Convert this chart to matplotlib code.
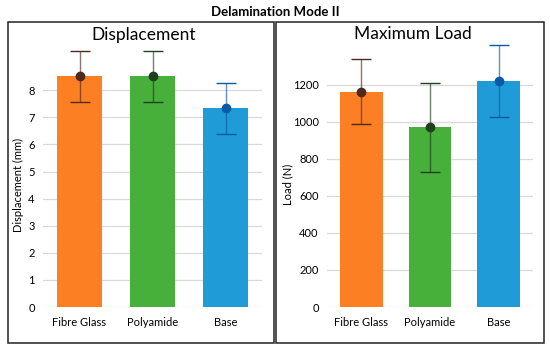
import numpy as np
import matplotlib.pyplot as plt
from matplotlib.patches import Rectangle

plt.rcParams['font.family'] = ['Lato', 'DejaVu Sans']

categories = ["Fibre Glass", "Polyamide", "Base"]
bar_colors = ["#fd7f23", "#47b03b", "#1f9bd8"]
err_colors = ["#4f2a1c", "#1f3f1f", "#0a5aa8"]

disp_mean = [8.51, 8.52, 7.33]
disp_err = [0.95, 0.94, 0.95]

load_mean = [1163, 970, 1220]
load_err = [175, 240, 192]

fig = plt.figure(figsize=(5.5, 3.5), dpi=100)
W, H = 550, 350

def fx(px):
    return px / W

def fy(py):
    return 1 - py / H

# panel frames
for x0, x1 in [(8, 274), (276, 544)]:
    fig.add_artist(Rectangle((fx(x0), fy(343)), fx(x1 - x0), (343 - 22) / H,
                             transform=fig.transFigure, fill=False,
                             edgecolor="#222222", linewidth=1.1))

fig.text(0.5, fy(12), "Delamination Mode II", ha="center", va="center",
         fontsize=9.5, fontweight="bold")
fig.text(fx(144), fy(35), "Displacement", ha="center", va="center", fontsize=12.5)
fig.text(fx(413), fy(34), "Maximum Load", ha="center", va="center", fontsize=12.5)


def panel(ax, means, errs, ticks, ymax, ylabel, label_x):
    x = np.arange(len(categories))
    ax.bar(x, means, width=0.62, color=bar_colors, zorder=2)
    for i in range(len(x)):
        ax.errorbar(x[i], means[i], yerr=errs[i], fmt="o", color=err_colors[i],
                    ecolor=err_colors[i], elinewidth=1.0, capsize=7.5, capthick=1.0,
                    markersize=6, zorder=3, clip_on=False)
    for l in ax.collections:
        l.set_alpha(0.65)
    ax.set_xlim(-0.5, 2.5)
    ax.set_ylim(0, ymax)
    ax.set_yticks(ticks)
    ax.set_xticks(x)
    ax.set_xticklabels(categories, fontsize=8)
    ax.tick_params(axis="y", labelsize=8, length=0, pad=6)
    ax.tick_params(axis="x", length=0, pad=7)
    for t in ticks:
        ax.axhline(t, color="#d9d9d9", linewidth=0.9, zorder=1)
    for s in ax.spines.values():
        s.set_visible(False)
    ax.set_ylabel(ylabel, fontsize=8)
    ax.yaxis.set_label_coords(label_x, 0.5)


ax1 = fig.add_axes([fx(43), fy(307), fx(262 - 43), (307 - 62) / H])
panel(ax1, disp_mean, disp_err, np.arange(0, 9, 1), (307 - 62) / 27.1,
      "Displacement (mm)", (24 - 43) / 219)

ax2 = fig.add_axes([fx(327), fy(307), fx(533 - 327), (307 - 62) / H])
panel(ax2, load_mean, load_err, np.arange(0, 1201, 200), (307 - 62) / 0.18525,
      "Load (N)", (293 - 327) / 206)

fig.savefig("out.png", dpi=100)
